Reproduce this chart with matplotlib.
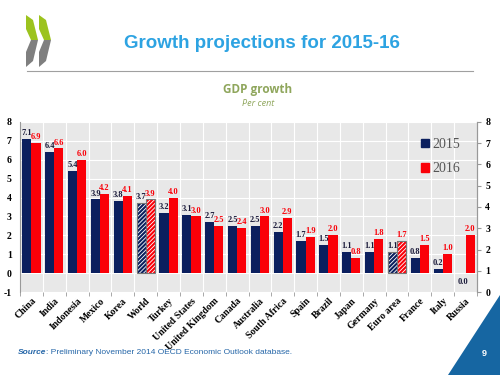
import matplotlib
matplotlib.use("Agg")
import matplotlib.pyplot as plt
from matplotlib.patches import Polygon
import numpy as np

countries = ["China", "India", "Indonesia", "Mexico", "Korea", "World", "Turkey",
             "United States", "United Kingdom", "Canada", "Australia", "South Africa",
             "Spain", "Brazil", "Japan", "Germany", "Euro area", "France", "Italy", "Russia"]
g2015 = [7.1, 6.4, 5.4, 3.9, 3.8, 3.7, 3.2, 3.1, 2.7, 2.5, 2.5, 2.2, 1.7, 1.5, 1.1, 1.1, 1.1, 0.8, 0.2, 0.0]
g2016 = [6.9, 6.6, 6.0, 4.2, 4.1, 3.9, 4.0, 3.0, 2.5, 2.4, 3.0, 2.9, 1.9, 2.0, 0.8, 1.8, 1.7, 1.5, 1.0, 2.0]
hatched = ["World", "Euro area"]
left_ticks = [-1, 0, 1, 2, 3, 4, 5, 6, 7, 8]
right_ticks = [0, 1, 2, 3, 4, 5, 6, 7, 8]

navy = "#0b1f5e"
red = "#fa0008"
serif = "Liberation Serif"

fig = plt.figure(figsize=(5, 3.75), dpi=100)

def fx(x):
    return x / 500.0

def fy(y):
    return 1 - y / 375.0

# logo (two chevrons)
for dx in [0, 13]:
    top = [(26, 15), (33, 20), (38, 40), (31, 40), (26, 29)]
    bot = [(31, 40), (38, 40), (33, 61), (26, 67), (26, 52)]
    fig.patches.append(Polygon([(fx(a + dx), fy(b)) for a, b in top], closed=True,
                               transform=fig.transFigure, color="#9cc31e", lw=0))
    fig.patches.append(Polygon([(fx(a + dx), fy(b)) for a, b in bot], closed=True,
                               transform=fig.transFigure, color="#7f7f7f", lw=0))

fig.text(fx(262), fy(43), "Growth projections for 2015-16", ha="center", va="center",
         fontsize=13.5, fontweight="bold", color="#2da3e2", family="Liberation Sans")
fig.add_artist(plt.Line2D([fx(27), fx(473)], [fy(71), fy(71)], color="#a0a0a0", lw=0.8,
                          transform=fig.transFigure))
fig.text(fx(258), fy(90), "GDP growth", ha="center", va="center", fontsize=8.5,
         fontweight="bold", color="#8fa65c", family="Open Sans")
fig.text(fx(258), fy(103), "Per cent", ha="center", va="center", fontsize=6.5,
         style="italic", color="#8fa65c", family="Open Sans")

# source and page number
src = fig.text(fx(18), fy(353), "Source", ha="left", va="center", fontsize=6,
               style="italic", fontweight="bold", color="#2566a8", family="Liberation Sans")
fig.canvas.draw()
ext = src.get_window_extent()
fig.text(ext.x1 / fig.dpi / 5.0, fy(353), ": Preliminary November 2014 OECD Economic Outlook database.",
         ha="left", va="center", fontsize=6, color="#2566a8", family="Liberation Sans")
tri = [(448, 375), (500, 375), (500, 295)]
fig.patches.append(Polygon([(fx(a), fy(b)) for a, b in tri], closed=True,
                           transform=fig.transFigure, color="#1666a2", lw=0))
fig.text(fx(484), fy(353), "9", ha="center", va="center", fontsize=6.5,
         fontweight="bold", color="white", family="Liberation Sans")

ax = fig.add_axes([0.04, 0.2213, 0.914, 0.4534])
ax.set_facecolor("#e8e8e8")
x = np.arange(len(countries))
w = 0.4

plt.rcParams["hatch.linewidth"] = 0.6
for i, c in enumerate(countries):
    if c in hatched:
        ax.bar(x[i] - w / 2, g2015[i], w, color=navy, edgecolor="white", hatch="////////", lw=0, zorder=3)
        ax.bar(x[i] + w / 2, g2016[i], w, color=red, edgecolor="white", hatch="////////", lw=0, zorder=3)
        ax.bar(x[i] - w / 2, g2015[i], w, facecolor="none", edgecolor="#777777", lw=0.8, zorder=4)
        ax.bar(x[i] + w / 2, g2016[i], w, facecolor="none", edgecolor="#777777", lw=0.8, zorder=4)
    else:
        ax.bar(x[i] - w / 2, g2015[i], w, color=navy, zorder=3)
        ax.bar(x[i] + w / 2, g2016[i], w, color=red, zorder=3)
    if g2015[i] > 0:
        ax.text(x[i] - w / 2, g2015[i] + 0.1, "%.1f" % g2015[i], ha="center", va="bottom",
                fontsize=6, fontweight="bold", color="#1a1a3a", family=serif, zorder=5)
    else:
        ax.text(x[i] - w / 2 + 0.1, -0.25, "%.1f" % g2015[i], ha="center", va="top",
                fontsize=6, fontweight="bold", color="#1a1a3a", family=serif, zorder=5)
    ax.text(x[i] + w / 2, g2016[i] + 0.1, "%.1f" % g2016[i], ha="center", va="bottom",
            fontsize=6, fontweight="bold", color=red, family=serif, zorder=5)

ax.bar(x[-1] - w / 2, 0.03, w, color=navy, zorder=3)

ax.set_xlim(-0.5, len(countries) - 0.5)
ax.set_ylim(-1, 8)
ax.set_yticks(left_ticks)
ax.set_yticklabels([str(t) for t in left_ticks], family=serif, fontweight="bold", fontsize=7)
ax.set_xticks(x)
ax.set_xticklabels(countries, rotation=45, ha="right", rotation_mode="anchor",
                   family=serif, fontweight="bold", fontsize=7)
ax.tick_params(axis="x", length=0, pad=3)
ax.tick_params(axis="y", length=0, pad=6)
ax.set_xticks(np.arange(len(countries) + 1) - 0.5, minor=True)
ax.tick_params(axis="x", which="minor", length=3, color="#999999")
ax.grid(True, which="minor", axis="x", color="white", lw=0.8, zorder=0)
ax.grid(True, which="major", axis="y", color="white", lw=0.8, zorder=0)
ax.set_axisbelow(True)
for s in ["top", "bottom"]:
    ax.spines[s].set_visible(False)
ax.spines["left"].set_color("#999999")
ax.spines["right"].set_color("#999999")

ax2 = ax.twinx()
ax2.set_ylim(0, 8)
ax2.set_yticks(right_ticks)
ax2.set_yticklabels([str(t) for t in right_ticks], family=serif, fontweight="bold", fontsize=7)
ax2.tick_params(axis="y", length=3, color="#999999", pad=3)
for s in ["top", "bottom", "left"]:
    ax2.spines[s].set_visible(False)
ax2.spines["right"].set_color("#999999")

h1 = plt.Rectangle((0, 0), 1, 1, color=navy)
h2 = plt.Rectangle((0, 0), 1, 1, color=red)
ax.legend([h1, h2], ["2015", "2016"], loc="upper left", bbox_to_anchor=(0.85, 0.98),
          frameon=False, handlelength=0.6, handleheight=0.6, handletextpad=0.2,
          labelspacing=0.8, prop={"family": serif, "size": 10}, labelcolor="#555555")

fig.savefig("out.png", dpi=100)
